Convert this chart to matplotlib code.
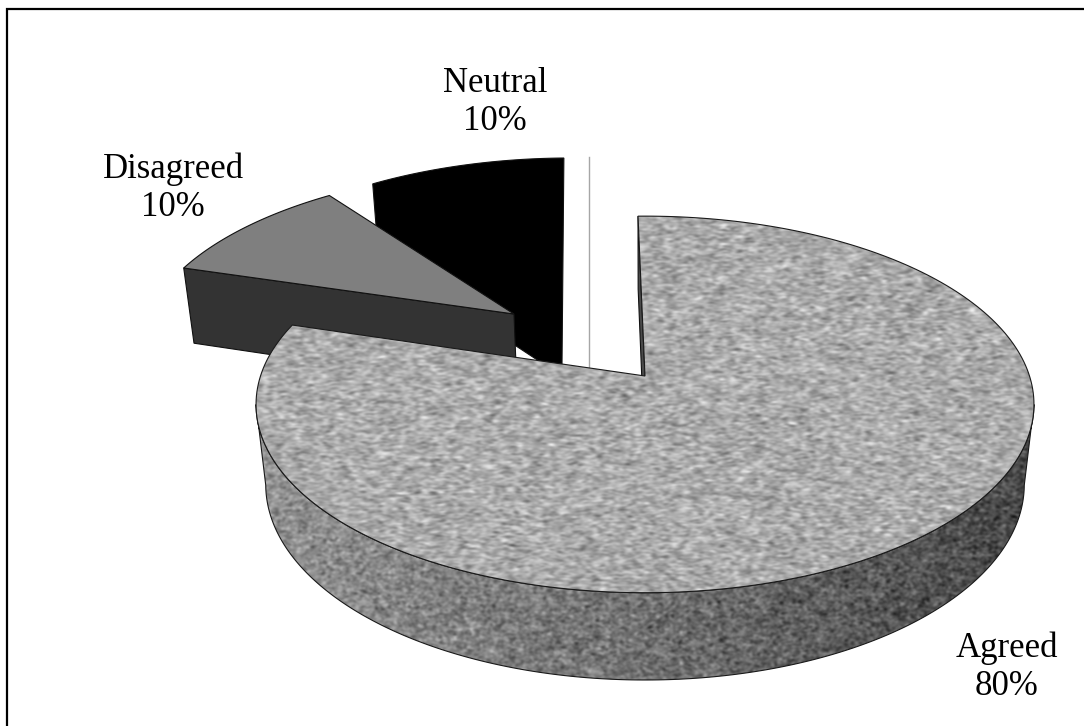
import numpy as np
import matplotlib
matplotlib.use("Agg")
import matplotlib.pyplot as plt
from matplotlib.patches import Polygon

categories = ["Agreed", "Disagreed", "Neutral"]
percent = [80, 10, 10]

W, H = 1084, 726
CX, CY = 645, 376
A, B = 384.5, 184.0      # disc radii in px
K = 0.151                # perspective strength
DROP = 81.7              # thickness of the pie
M = 0.025                # shrink of the lower rim
START = -1.2             # degrees clockwise from 12 o'clock

# slice displacement in disc units
offsets = {"Agreed": (0.0, 0.0), "Disagreed": (-0.359, -0.355), "Neutral": (-0.236, -0.443)}
label_pos = {"Agreed": (1007, 667), "Disagreed": (173, 188), "Neutral": (495, 103)}


def project(x, y, low=False):
    w = 1 - K * y + (M if low else 0)
    return CX + A * x / w, CY + (B * y + (DROP if low else 0)) / w


def rim(t0, t1, off, low=False):
    t = np.radians(np.linspace(t0, t1, 240))
    px, py = project(np.sin(t) + off[0], -np.cos(t) + off[1], low)
    return np.column_stack([px, py])


def speckle(seed, level, spread, sx, sy):
    # grainy stone fill, smoothed noise rescaled around a grey level
    rng = np.random.default_rng(seed)
    fy = np.fft.fftfreq(H)[:, None]
    fx = np.fft.rfftfreq(W)[None, :]
    spec = np.fft.rfft2(rng.normal(size=(H, W))) * np.exp(-2 * np.pi**2 * ((fx * sx)**2 + (fy * sy)**2))
    img = np.fft.irfft2(spec, s=(H, W))
    img = (img - img.mean()) / img.std()
    return np.clip(level + spread * img, 0, 255)


def fill_textured(ax, pts, tex, zorder):
    patch = Polygon(pts, closed=True, fc="none", ec="#1a1a1a", lw=0.8, zorder=zorder + 0.5)
    ax.add_patch(patch)
    im = ax.imshow(tex, cmap="gray", vmin=0, vmax=255, extent=(0, W, H, 0), zorder=zorder,
                   interpolation="bilinear", aspect="auto")
    clip = Polygon(pts, closed=True, transform=ax.transData)
    im.set_clip_path(clip)


def solid(ax, pts, color, zorder):
    ax.add_patch(Polygon(pts, closed=True, fc=color, ec="#111111", lw=0.8, zorder=zorder))


fig = plt.figure(figsize=(W / 100, H / 100), dpi=100)
ax = fig.add_axes([0, 0, 1, 1])
ax.set_xlim(0, W)
ax.set_ylim(H, 0)
ax.axis("off")

# angular extent of each slice
ends = START + np.cumsum(percent) * 3.6
starts = np.concatenate([[START], ends[:-1]])
span = dict(zip(categories, zip(starts, ends)))

# leader line behind the pie
ax.plot([589, 589], [157, 376], color="#a6a6a6", lw=1.0, zorder=1)

# neutral slice: everything black
t0, t1 = span["Neutral"]
off = offsets["Neutral"]
apex_low = np.array([project(off[0], off[1], True)])
body = np.vstack([rim(t0, t1, off), apex_low, rim(t0, t0, off, True)[:1]])
solid(ax, body, "#000000", 2)

# disagreed slice: dark wall under a mid grey face
t0, t1 = span["Disagreed"]
off = offsets["Disagreed"]
apex = np.array([project(off[0], off[1])])
apex_low = np.array([project(off[0], off[1], True)])
wall = np.vstack([apex, rim(t0, t0, off)[:1], rim(t0, t0, off, True)[:1], apex_low])
solid(ax, wall, "#333333", 3)
solid(ax, np.vstack([apex, rim(t0, t1, off)]), "#7f7f7f", 4)

# agreed slice
t0, t1 = span["Agreed"]
off = offsets["Agreed"]
apex = np.array([project(*off)])
apex_low = np.array([project(off[0], off[1], True)])

# the wall darkens towards the right
shade = np.interp(np.arange(W), [260, 650, 1030], [146, 112, 72])[None, :]
side_tex = speckle(3, shade, 14, 1.5, 1.2)
top_tex = speckle(7, 170, 15, 2.2, 1.0)

cut = np.vstack([rim(t0, t0, off)[:1], apex, apex_low, rim(t0, t0, off, True)[:1]])
solid(ax, cut, "#4a4a4a", 5)

widest = np.degrees(np.arccos(-K))
front = np.vstack([rim(widest, 360 - widest, off), rim(360 - widest, widest, off, True)])
fill_textured(ax, front, side_tex, 6)

top = np.vstack([apex, rim(t0, t1, off)])
fill_textured(ax, top, top_tex, 7)

# labels
for name, val in zip(categories, percent):
    x, y = label_pos[name]
    ax.text(x, y, f"{name}\n{val}%", ha="center", va="center", family="Liberation Serif",
            fontsize=25, color="black", linespacing=1.2, zorder=10)

# chart border, its right and bottom sides fall off the canvas
ax.plot([7, 7, W + 5], [H + 5, 9, 9], color="black", lw=1.6, solid_joinstyle="miter", zorder=11)

ax.set_xlim(0, W)
ax.set_ylim(H, 0)
fig.savefig("out.png", dpi=100, facecolor="white")
